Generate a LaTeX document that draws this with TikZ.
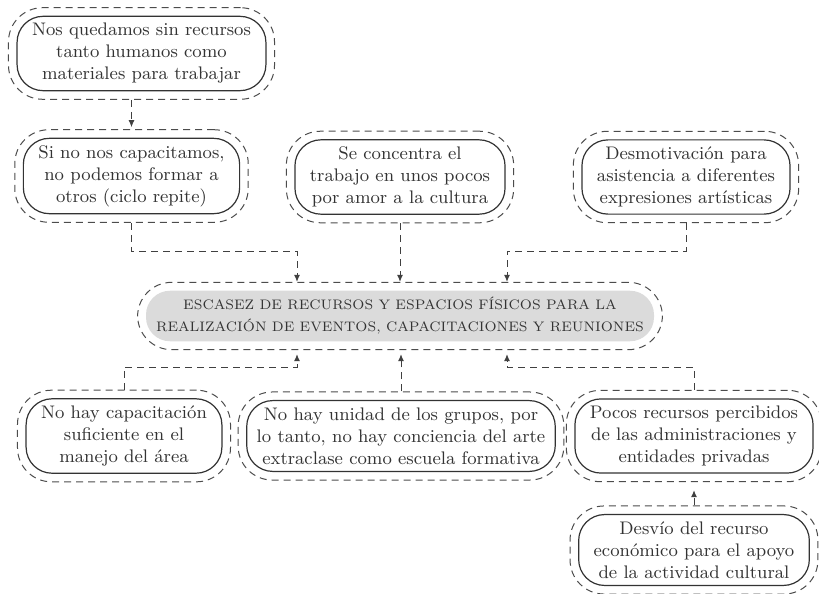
\documentclass[tikz,border=0pt]{standalone}
\usepackage{fontspec}
\usetikzlibrary{arrows.meta,fit}

\tikzset{
  cause/.style={draw=black!80,line width=0.6pt,rounded corners=13pt,align=center,
    text=black!80,inner xsep=7.5pt,inner ysep=3.5pt,font=\fontsize{9.1}{11}\selectfont},
  ring/.style={draw=black!70,line width=0.5pt,dash pattern=on 3.5pt off 2.5pt,
    rounded corners=17pt,inner sep=4pt},
  conn/.style={draw=black!75,line width=0.5pt,dash pattern=on 3.5pt off 2.5pt,
    -{Latex[length=3.5pt,width=3pt]}},
}

\begin{document}
\begin{tikzpicture}[x=0.5pt,y=-0.5pt]
  \useasboundingbox (0,0) rectangle (819,594);
  % problema central
  \node[fill=black!14,rounded corners=12pt,minimum width=254pt,minimum height=24pt,
    inner xsep=2pt,align=center,text=black!80,font=\fontsize{6.9}{11}\selectfont]
    (esc) at (400,316)
    {ESCASEZ DE RECURSOS Y ESPACIOS FÍSICOS PARA LA\\
     REALIZACIÓN DE EVENTOS, CAPACITACIONES Y REUNIONES};
  \node[ring,fit=(esc)] (esc-o) {};
  % efectos
  \node[cause] (sinrec) at (141.5,53.5)
    {Nos quedamos sin recursos\\tanto humanos como\\materiales para trabajar};
  \node[ring,fit=(sinrec)] (sinrec-o) {};
  \node[cause] (capac) at (131.5,176)
    {Si no nos capacitamos,\\no podemos formar a\\otros (ciclo repite)};
  \node[ring,fit=(capac)] (capac-o) {};
  \node[cause] (conc) at (400,177)
    {Se concentra el\\trabajo en unos pocos\\por amor a la cultura};
  \node[ring,fit=(conc)] (conc-o) {};
  \node[cause] (desm) at (686,177)
    {Desmotivación para\\asistencia a diferentes\\expresiones artísticas};
  \node[ring,fit=(desm)] (desm-o) {};
  % causas
  \node[cause] (nohay) at (124,436)
    {No hay capacitación\\suficiente en el\\manejo del área};
  \node[ring,fit=(nohay)] (nohay-o) {};
  \node[cause,inner xsep=5pt] (unidad) at (401,436)
    {No hay unidad de los grupos, por\\lo tanto, no hay conciencia del arte\\extraclase como escuela formativa};
  \node[ring,fit=(unidad)] (unidad-o) {};
  \node[cause] (pocos) at (694,436)
    {Pocos recursos percibidos\\de las administraciones y\\entidades privadas};
  \node[ring,fit=(pocos)] (pocos-o) {};
  \node[cause] (desvio) at (694,550)
    {Desvío del recurso\\económico para el apoyo\\de la actividad cultural};
  \node[ring,fit=(desvio)] (desvio-o) {};

  \coordinate (jcap) at (297,251);
  \coordinate (jdes) at (507,251);
  \coordinate (jnoh) at (297,367);
  \coordinate (jpoc) at (507,367);

  \draw[conn,shorten >=1pt] (capac-o.north |- sinrec-o.south) -- (capac-o.north);
  \draw[conn] (capac-o.south) |- (jcap) -- (jcap |- esc-o.north);
  \draw[conn] (conc-o.south) -- (conc-o.south |- esc-o.north);
  \draw[conn] (desm-o.south) |- (jdes) -- (jdes |- esc-o.north);
  \draw[conn,shorten >=2pt] (nohay-o.north) |- (jnoh) -- (jnoh |- esc-o.south);
  \draw[conn,shorten >=2pt] (unidad-o.north) -- (unidad-o.north |- esc-o.south);
  \draw[conn,shorten >=2pt] (pocos-o.north) |- (jpoc) -- (jpoc |- esc-o.south);
  \draw[conn,shorten >=4pt] (desvio-o.north) -- (pocos-o.south);
\end{tikzpicture}
\end{document}
